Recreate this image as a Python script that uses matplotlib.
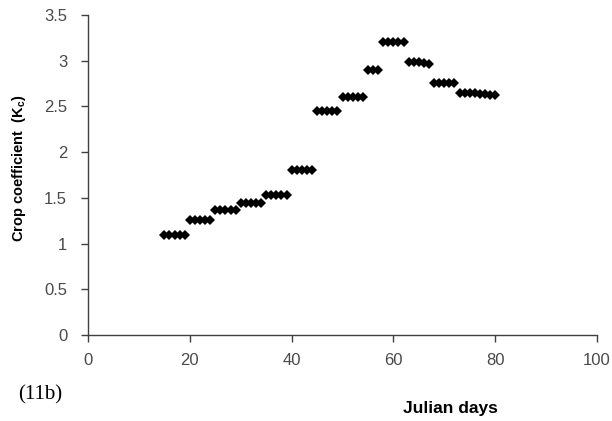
import matplotlib
matplotlib.use("Agg")
import matplotlib.pyplot as plt

# Julian day and crop coefficient (Kc)
days = [15, 16, 17, 18, 19,
        20, 21, 22, 23, 24,
        25, 26, 27, 28, 29,
        30, 31, 32, 33, 34,
        35, 36, 37, 38, 39,
        40, 41, 42, 43, 44,
        45, 46, 47, 48, 49,
        50, 51, 52, 53, 54,
        55, 56, 57,
        58, 59, 60, 61, 62,
        63, 64, 65, 66, 67,
        68, 69, 70, 71, 72,
        73, 74, 75, 76, 77, 78, 79, 80]
kc = [1.09, 1.09, 1.09, 1.09, 1.09,
      1.26, 1.26, 1.26, 1.26, 1.26,
      1.37, 1.37, 1.37, 1.37, 1.37,
      1.44, 1.44, 1.44, 1.44, 1.44,
      1.53, 1.53, 1.53, 1.53, 1.53,
      1.81, 1.81, 1.81, 1.81, 1.81,
      2.45, 2.45, 2.45, 2.45, 2.45,
      2.60, 2.60, 2.60, 2.60, 2.60,
      2.90, 2.90, 2.90,
      3.20, 3.20, 3.20, 3.20, 3.20,
      2.99, 2.99, 2.99, 2.98, 2.96,
      2.76, 2.76, 2.76, 2.76, 2.76,
      2.65, 2.65, 2.65, 2.65, 2.64, 2.64, 2.63, 2.63]

x_ticks = [0, 20, 40, 60, 80, 100]
y_ticks = [0, 0.5, 1, 1.5, 2, 2.5, 3, 3.5]
y_tick_labels = ["0", "0.5", "1", "1.5", "2", "2.5", "3", "3.5"]

plt.rcParams['font.family'] = ['Liberation Sans', 'DejaVu Sans']
plt.rcParams['mathtext.default'] = 'regular'

fig = plt.figure(figsize=(6.12, 4.21), dpi=100)
ax = fig.add_axes([88 / 612, 1 - 335 / 421, (597 - 88) / 612, (335 - 15) / 421])

ax.plot(days, kc, linestyle='none', marker='D', markersize=5,
        color='black', markeredgewidth=0)

ax.set_xlim(0, 100)
ax.set_ylim(0, 3.5)
ax.set_xticks(x_ticks)
ax.set_yticks(y_ticks)
ax.set_yticklabels(y_tick_labels)

for side in ['top', 'right']:
    ax.spines[side].set_visible(False)
for side in ['left', 'bottom']:
    ax.spines[side].set_color('#404040')
    ax.spines[side].set_linewidth(1)

ax.tick_params(axis='both', direction='out', length=5, width=1,
               color='#404040', labelcolor='#4a4a4a', labelsize=12)
ax.tick_params(axis='x', pad=8)
ax.tick_params(axis='y', pad=10)

ax.set_ylabel('Crop coefficient  (K$_c$)', fontsize=10.5, fontweight='bold')
ax.yaxis.set_label_coords((28 - 88) / 509, (335 - 168) / 320)

fig.text(450 / 612, 1 - 408 / 421, 'Julian days', fontsize=12.5,
         fontweight='bold', ha='center', va='center')
fig.text(18 / 612, 1 - 395 / 421, '(11b)', fontsize=15,
         family='Liberation Serif', ha='left', va='center')

fig.savefig('out.png', dpi=100)
